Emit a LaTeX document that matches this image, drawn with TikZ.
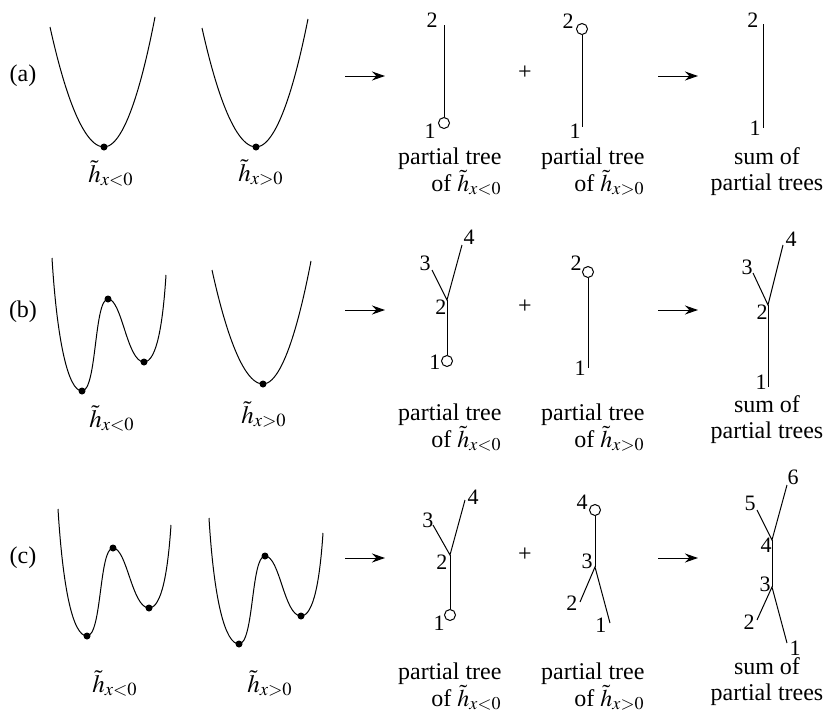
\documentclass[tikz,border=0pt]{standalone}
\usepackage{mathptmx}
\usepackage{fontspec}
\setmainfont{Liberation Serif}
\usetikzlibrary{arrows.meta}

\begin{document}
\begin{tikzpicture}[x=0.5pt, y=-0.5pt, line width=0.5pt,
  row/.style={inner sep=0pt, font=\fontsize{12}{12}\selectfont},
  num/.style={inner sep=0pt, font=\fontsize{11}{11}\selectfont},
  capt/.style={inner sep=0pt, font=\fontsize{12}{13.5}\selectfont, align=right, anchor=north east},
  sumcapt/.style={inner sep=0pt, font=\fontsize{12}{13}\selectfont, align=center, anchor=north},
  hlab/.style={inner sep=0pt, anchor=base, font=\fontsize{12.5}{12.5}\selectfont},
  endc/.style={circle, draw, fill=white, inner sep=0pt, minimum size=5.5pt},
  crit/.style={circle, fill, inner sep=0pt, minimum size=3.5pt},
  goarrow/.style={-{Stealth[length=6.5pt, width=4.5pt]}}]
  \useasboundingbox (0,0) rectangle (827,723);

  % ---- row (a)
  \node[row] (ra) at (23,76) {(a)};
  \draw (50,27) parabola bend (104,147) (155,17);
  \node[crit] (a1m) at (104,147) {};
  \node[hlab] (a1h) at (111,182) {$\tilde{h}_{x<0}$};
  \draw (202,28) parabola bend (256,147) (308,19);
  \node[crit] (a2m) at (256,147) {};
  \node[hlab] (a2h) at (261,181) {$\tilde{h}_{x>0}$};

  \coordinate (a1s) at (345,76);
  \coordinate (a1e) at (385,76);
  \draw[goarrow] (a1s) -- (a1e);

  \coordinate (a1t) at (444,25);
  \node[endc] (a1b) at (444,123) {};
  \draw (a1t) -- (a1b);
  \node[num] (a1n2) at (432,20) {2};
  \node[num] (a1n1) at (430,131) {1};
  \node[capt] (a1c) at (502,147) {partial tree\\of $\tilde{h}_{x<0}$};

  \node[row] (ap) at (525,73) {+};

  \node[endc] (a2t) at (582,29) {};
  \coordinate (a2b) at (582,127);
  \draw (a2t) -- (a2b);
  \node[num] (a2n2) at (568,21) {2};
  \node[num] (a2n1) at (575,131) {1};
  \node[capt] (a2c) at (645,147) {partial tree\\of $\tilde{h}_{x>0}$};

  \coordinate (a2s) at (658,76);
  \coordinate (a2e) at (698,76);
  \draw[goarrow] (a2s) -- (a2e);

  \coordinate (a3t) at (763,24);
  \coordinate (a3b) at (763,128);
  \draw (a3t) -- (a3b);
  \node[num] (a3n2) at (753,20) {2};
  \node[num] (a3n1) at (755,128) {1};
  \node[sumcapt] (a3c) at (767,147) {sum of\\partial trees};

  % ---- row (b)
  \node[row] (rb) at (23,312) {(b)};
  \draw (52,258) .. controls (57,340) and (68,391) .. (82,391)
    .. controls (97,391) and (94,299) .. (108,299)
    .. controls (122,299) and (127,362) .. (144,362)
    .. controls (157,362) and (163,322) .. (166,275);
  \node[crit] (b1m) at (82,391) {};
  \node[crit] (b1x) at (108,299) {};
  \node[crit] (b1n) at (144,362) {};
  \node[hlab] (b1h) at (112,427) {$\tilde{h}_{x<0}$};
  \draw (212,270) parabola bend (263,384) (311,261);
  \node[crit] (b2m) at (263,384) {};
  \node[hlab] (b2h) at (264,423) {$\tilde{h}_{x>0}$};

  \coordinate (b1s) at (345,310);
  \coordinate (b1e) at (385,310);
  \draw[goarrow] (b1s) -- (b1e);

  \coordinate (b1v) at (447,300);
  \coordinate (b1l) at (432,270);
  \coordinate (b1r) at (462,245);
  \node[endc] (b1b) at (447,361) {};
  \draw (b1l) -- (b1v) -- (b1r);
  \draw (b1v) -- (b1b);
  \node[num] (b1n3) at (425,263) {3};
  \node[num] (b1n4) at (469,237) {4};
  \node[num] (b1n2) at (441,307) {2};
  \node[num] (b1n1) at (435,362) {1};
  \node[capt] (b1c) at (502,403) {partial tree\\of $\tilde{h}_{x<0}$};

  \node[row] (bp) at (525,307) {+};

  \node[endc] (b2t) at (588,272) {};
  \coordinate (b2b) at (588,368);
  \draw (b2t) -- (b2b);
  \node[num] (b2n2) at (576,263) {2};
  \node[num] (b2n1) at (580,368) {1};
  \node[capt] (b2c) at (645,403) {partial tree\\of $\tilde{h}_{x>0}$};

  \coordinate (b2s) at (658,310);
  \coordinate (b2e) at (698,310);
  \draw[goarrow] (b2s) -- (b2e);

  \coordinate (b3v) at (768,305);
  \coordinate (b3l) at (753,273);
  \coordinate (b3r) at (783,245);
  \coordinate (b3b) at (768,387);
  \draw (b3l) -- (b3v) -- (b3r);
  \draw (b3v) -- (b3b);
  \node[num] (b3n3) at (747,267) {3};
  \node[num] (b3n4) at (791,239) {4};
  \node[num] (b3n2) at (762,312) {2};
  \node[num] (b3n1) at (761,382) {1};
  \node[sumcapt] (b3c) at (767,395) {sum of\\partial trees};

  % ---- row (c)
  \node[row] (rc) at (23,558) {(c)};
  \draw (58,509) .. controls (63,590) and (73,636) .. (87,636)
    .. controls (102,636) and (99,548) .. (113,548)
    .. controls (127,548) and (132,608) .. (149,608)
    .. controls (162,608) and (168,570) .. (171,525);
  \node[crit] (c1m) at (87,636) {};
  \node[crit] (c1x) at (113,548) {};
  \node[crit] (c1n) at (149,608) {};
  \node[hlab] (c1h) at (115,692) {$\tilde{h}_{x<0}$};
  \draw (209,518) .. controls (214,600) and (225,644) .. (239,644)
    .. controls (254,644) and (251,556) .. (265,556)
    .. controls (280,556) and (284,616) .. (301,616)
    .. controls (314,616) and (320,578) .. (323,533);
  \node[crit] (c2m) at (239,644) {};
  \node[crit] (c2x) at (265,556) {};
  \node[crit] (c2n) at (301,616) {};
  \node[hlab] (c2h) at (270,692) {$\tilde{h}_{x>0}$};

  \coordinate (c1s) at (345,558);
  \coordinate (c1e) at (385,558);
  \draw[goarrow] (c1s) -- (c1e);

  \coordinate (c1v) at (450,555);
  \coordinate (c1l) at (433,525);
  \coordinate (c1r) at (465,500);
  \node[endc] (c1b) at (450,615) {};
  \draw (c1l) -- (c1v) -- (c1r);
  \draw (c1v) -- (c1b);
  \node[num] (c1n3) at (428,520) {3};
  \node[num] (c1n4) at (473,497) {4};
  \node[num] (c1n2) at (442,562) {2};
  \node[num] (c1n1) at (439,623) {1};
  \node[capt] (c1c) at (502,662) {partial tree\\of $\tilde{h}_{x<0}$};

  \node[row] (cp) at (525,555) {+};

  \node[endc] (c2t) at (595,510) {};
  \coordinate (c2v) at (595,567);
  \coordinate (c2l) at (580,602);
  \coordinate (c2r) at (610,623);
  \draw (c2t) -- (c2v);
  \draw (c2l) -- (c2v) -- (c2r);
  \node[num] (c2n4) at (582,502) {4};
  \node[num] (c2n3) at (587,561) {3};
  \node[num] (c2n2) at (572,603) {2};
  \node[num] (c2n1) at (601,625) {1};
  \node[capt] (c2c) at (645,662) {partial tree\\of $\tilde{h}_{x>0}$};

  \coordinate (c2s) at (658,558);
  \coordinate (c2e) at (698,558);
  \draw[goarrow] (c2s) -- (c2e);

  \coordinate (c3u) at (772,540);
  \coordinate (c3d) at (772,587);
  \coordinate (c3a) at (757,510);
  \coordinate (c3b) at (787,485);
  \coordinate (c3c) at (757,620);
  \coordinate (c3e) at (787,643);
  \draw (c3a) -- (c3u) -- (c3b);
  \draw (c3u) -- (c3d);
  \draw (c3c) -- (c3d) -- (c3e);
  \node[num] (c3n5) at (750,503) {5};
  \node[num] (c3n6) at (793,477) {6};
  \node[num] (c3n4) at (766,545) {4};
  \node[num] (c3n3) at (765,584) {3};
  \node[num] (c3n2) at (749,622) {2};
  \node[num] (c3n1) at (795,648) {1};
  \node[sumcapt] (c3c) at (767,657) {sum of\\partial trees};
\end{tikzpicture}
\end{document}
